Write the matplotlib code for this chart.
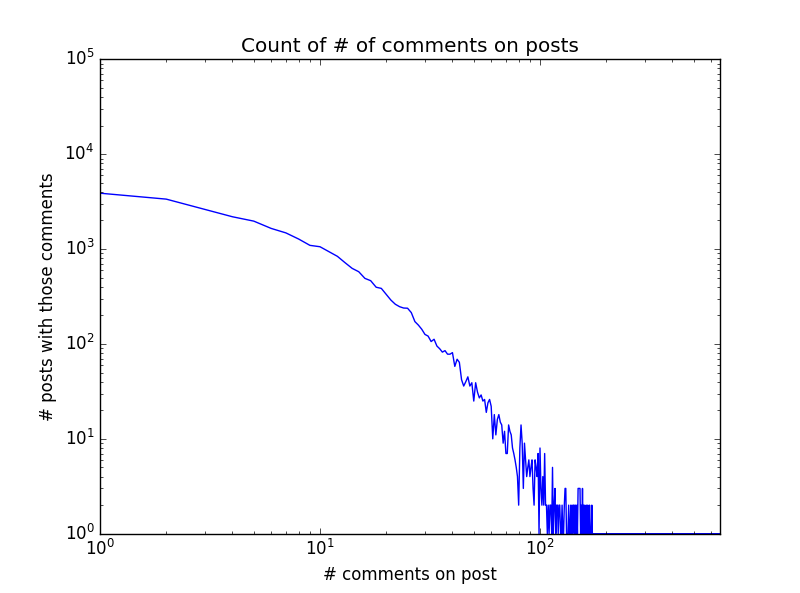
import numpy as np
import matplotlib
matplotlib.use("Agg")
import matplotlib.pyplot as plt

plt.style.use('classic')

# number of comments (1..174) then the last point of the flat tail
comments_head = list(range(1, 175))
counts_head = [
    3880, 3360, 2620, 2190, 1970, 1650, 1480, 1275, 1094, 1058,
    936, 838, 718, 626, 577, 491, 464, 396, 385, 333,
    290, 262, 247, 239, 238, 214, 172, 158, 143, 126,
    121, 106, 112, 95, 89, 82, 85, 78, 78, 81,
    58, 69, 64, 42, 36, 40, 45, 36, 39, 25,
    39, 31, 27, 29, 25, 26, 19, 24, 26, 22,
    10, 18, 11, 16, 18, 15, 14, 9, 12, 7,
    7, 14, 12, 11, 8, 7, 6, 5, 4, 2,
    8, 14, 9, 3, 9, 6, 4, 5, 6, 4,
    5, 6, 3, 2, 6, 5, 4, 7, 1, 8,
    3, 2, 4, 2, 7, 2, 2, 1, 2, 1,
    2, 2, 1, 5, 1, 2, 3, 1, 2, 2,
    1, 2, 2, 1, 1, 2, 1, 1, 2, 3,
    3, 1, 1, 1, 2, 1, 1, 2, 1, 2,
    1, 2, 2, 1, 2, 1, 2, 1, 3, 3,
    3, 3, 1, 2, 1, 3, 1, 2, 1, 2,
    1, 1, 2, 1, 2, 1, 1, 2, 1, 1,
    1, 2, 1, 1,
]
comments_tail = [658]
counts_tail = [1]

comments = comments_head + comments_tail
counts = counts_head + counts_tail

fig = plt.figure(figsize=(8, 5.93), dpi=100)
ax = fig.add_subplot(111)
ax.plot(comments, counts, color='b', linewidth=1.0)
ax.set_xscale('log')
ax.set_yscale('log')
ax.set_xlim(1, 658)
ax.set_ylim(1, 1e5)
ax.set_title('Count of # of comments on posts')
ax.set_xlabel('# comments on post')
ax.set_ylabel('# posts with those comments')
fig.savefig('out.png', dpi=100)
